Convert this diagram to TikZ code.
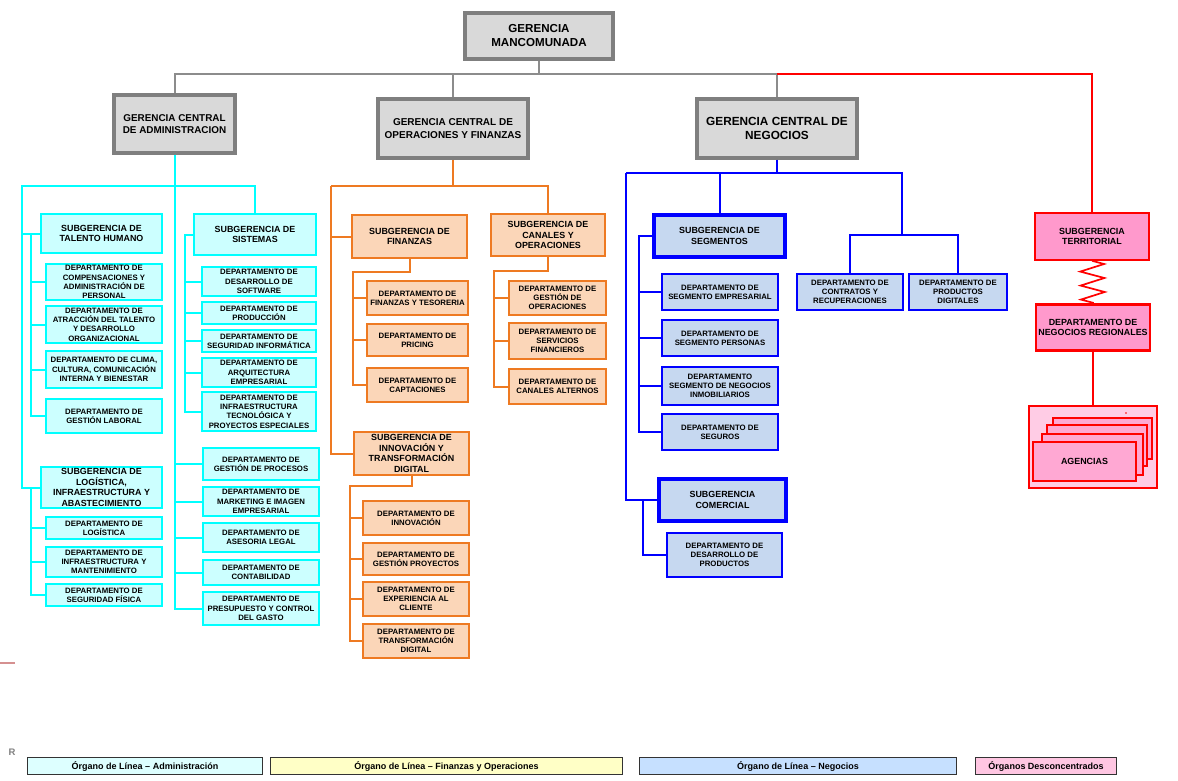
\documentclass[tikz,border=0pt]{standalone}
\usepackage{fontspec}
\setmainfont{Liberation Sans}
\usepackage{tikz}
\usetikzlibrary{calc,positioning,decorations.pathmorphing}
\usepackage{xcolor}
\definecolor{gcgray}{HTML}{7F7F7F}
\definecolor{gcfill}{HTML}{D9D9D9}
\definecolor{cyanln}{HTML}{00FFFF}
\definecolor{cyanfill}{HTML}{CCFFFF}
\definecolor{orangeln}{HTML}{EE7A22}
\definecolor{orangefill}{HTML}{FBD6B8}
\definecolor{blueln}{HTML}{0000FF}
\definecolor{bluefill}{HTML}{C6D8F0}
\definecolor{redln}{HTML}{FF0000}
\definecolor{pinkfill}{HTML}{FF99CC}
\definecolor{palepink}{HTML}{FFCCE5}
\definecolor{agpink}{HTML}{FFA8D3}
\definecolor{lgadm}{HTML}{DDFFFF}
\definecolor{lgfin}{HTML}{FFFFC6}
\definecolor{lgneg}{HTML}{C6E0FF}
\definecolor{lgdes}{HTML}{FFC6E2}

\begin{document}
\begin{tikzpicture}[x=1pt,y=-1pt,
    box/.style={draw,align=center,inner sep=0pt,text=black,font=\bfseries\fontsize{7.8}{9.3}\selectfont},
    gcbox/.style={box,draw=gcgray,line width=3.5pt,fill=gcfill},
    sga/.style={box,draw=cyanln,line width=2pt,fill=cyanfill,font=\bfseries\fontsize{8.9}{10.5}\selectfont},
    dpa/.style={box,draw=cyanln,line width=2pt,fill=cyanfill},
    sgo/.style={box,draw=orangeln,line width=2.2pt,fill=orangefill,font=\bfseries\fontsize{8.9}{10.5}\selectfont},
    dpo/.style={box,draw=orangeln,line width=2.2pt,fill=orangefill},
    sgn/.style={box,draw=blueln,line width=4pt,fill=bluefill,font=\bfseries\fontsize{8.9}{10.5}\selectfont},
    dpn/.style={box,draw=blueln,line width=2pt,fill=bluefill},
    sgr/.style={box,draw=redln,line width=1.6pt,fill=pinkfill,font=\bfseries\fontsize{8.9}{10.5}\selectfont},
    agr/.style={draw=redln,line width=1.5pt,fill=agpink,inner sep=0pt,text=black,font=\bfseries\fontsize{8.9}{10.5}\selectfont},
    lgbox/.style={draw=black!80,line width=1.2pt,inner sep=0pt,minimum height=17pt,text=black,font=\bfseries\fontsize{9}{11}\selectfont},
    gln/.style={draw=gcgray!90,line width=2pt},
    aln/.style={draw=cyanln,line width=2pt},
    oln/.style={draw=orangeln,line width=2pt},
    nln/.style={draw=blueln,line width=2pt},
    rln/.style={draw=redln,line width=1.7pt}]
    \useasboundingbox (0,0) rectangle (1178,781);

    \node[gcbox,minimum width=148pt,minimum height=46pt,font=\bfseries\fontsize{11.6}{14}\selectfont] (gm) at (539,36) {GERENCIA\\MANCOMUNADA};
    \node[gcbox,minimum width=121pt,minimum height=58pt,font=\bfseries\fontsize{9.9}{12.7}\selectfont] (gca) at (174.5,124) {GERENCIA CENTRAL\\DE ADMINISTRACION};
    \node[gcbox,minimum width=150pt,minimum height=59pt,font=\bfseries\fontsize{10}{12.7}\selectfont] (gcof) at (453,128.5) {GERENCIA CENTRAL DE\\OPERACIONES Y FINANZAS};
    \node[gcbox,minimum width=160pt,minimum height=59pt,font=\bfseries\fontsize{11.8}{13.7}\selectfont] (gcn) at (777,128.5) {GERENCIA CENTRAL DE\\NEGOCIOS};

    \node[sga,minimum width=121pt,minimum height=39pt] (tal) at (101.5,233.5) {SUBGERENCIA DE\\TALENTO HUMANO};
    \node[dpa,minimum width=116pt,minimum height=36pt] (comp) at (104,282) {DEPARTAMENTO DE\\COMPENSACIONES Y\\ADMINISTRACIÓN DE\\PERSONAL};
    \node[dpa,minimum width=116pt,minimum height=37pt] (atr) at (104,324.5) {DEPARTAMENTO DE\\ATRACCIÓN DEL TALENTO\\Y DESARROLLO\\ORGANIZACIONAL};
    \node[dpa,minimum width=116pt,minimum height=37pt] (clima) at (104,369.5) {DEPARTAMENTO DE CLIMA,\\CULTURA, COMUNICACIÓN\\INTERNA Y BIENESTAR};
    \node[dpa,minimum width=116pt,minimum height=34pt] (glab) at (104,416) {DEPARTAMENTO DE\\GESTIÓN LABORAL};
    \node[sga,minimum width=121pt,minimum height=41pt] (logi) at (101.5,487.5) {SUBGERENCIA DE\\LOGÍSTICA,\\INFRAESTRUCTURA Y\\ABASTECIMIENTO};
    \node[dpa,minimum width=116pt,minimum height=22pt] (log) at (104,528) {DEPARTAMENTO DE\\LOGÍSTICA};
    \node[dpa,minimum width=116pt,minimum height=30pt] (infm) at (104,562) {DEPARTAMENTO DE\\INFRAESTRUCTURA Y\\MANTENIMIENTO};
    \node[dpa,minimum width=116pt,minimum height=22pt] (segf) at (104,595) {DEPARTAMENTO DE\\SEGURIDAD FÍSICA};

    \node[sga,minimum width=122pt,minimum height=41pt] (sis) at (255,234.5) {SUBGERENCIA DE\\SISTEMAS};
    \node[dpa,minimum width=114pt,minimum height=29pt] (dsw) at (259,281.5) {DEPARTAMENTO DE\\DESARROLLO DE\\SOFTWARE};
    \node[dpa,minimum width=114pt,minimum height=22pt] (prod) at (259,313) {DEPARTAMENTO DE\\PRODUCCIÓN};
    \node[dpa,minimum width=114pt,minimum height=22pt] (seginf) at (259,341) {DEPARTAMENTO DE\\SEGURIDAD INFORMÁTICA};
    \node[dpa,minimum width=114pt,minimum height=29pt] (arq) at (259,372.5) {DEPARTAMENTO DE\\ARQUITECTURA\\EMPRESARIAL};
    \node[dpa,minimum width=114pt,minimum height=39pt] (infte) at (259,411.5) {DEPARTAMENTO DE\\INFRAESTRUCTURA\\TECNOLÓGICA Y\\PROYECTOS ESPECIALES};
    \node[dpa,minimum width=116pt,minimum height=32pt] (gproc) at (261,464) {DEPARTAMENTO DE\\GESTIÓN DE PROCESOS};
    \node[dpa,minimum width=116pt,minimum height=29pt] (mkt) at (261,501.5) {DEPARTAMENTO DE\\MARKETING E IMAGEN\\EMPRESARIAL};
    \node[dpa,minimum width=116pt,minimum height=29pt] (ases) at (261,537.5) {DEPARTAMENTO DE\\ASESORIA LEGAL};
    \node[dpa,minimum width=116pt,minimum height=25pt] (cont) at (261,572.5) {DEPARTAMENTO DE\\CONTABILIDAD};
    \node[dpa,minimum width=116pt,minimum height=33pt] (pres) at (261,608.5) {DEPARTAMENTO DE\\PRESUPUESTO Y CONTROL\\DEL GASTO};

    \node[sgo,minimum width=115pt,minimum height=43pt] (fin) at (409.5,236.5) {SUBGERENCIA DE\\FINANZAS};
    \node[dpo,minimum width=101pt,minimum height=34pt] (fyt) at (417.5,298) {DEPARTAMENTO DE\\FINANZAS Y TESORERIA};
    \node[dpo,minimum width=101pt,minimum height=32pt] (pric) at (417.5,340) {DEPARTAMENTO DE\\PRICING};
    \node[dpo,minimum width=101pt,minimum height=34pt] (capt) at (417.5,385) {DEPARTAMENTO DE\\CAPTACIONES};
    \node[sgo,minimum width=114pt,minimum height=42pt] (can) at (548,235) {SUBGERENCIA DE\\CANALES Y\\OPERACIONES};
    \node[dpo,minimum width=97pt,minimum height=34pt] (gop) at (557.5,298) {DEPARTAMENTO DE\\GESTIÓN DE\\OPERACIONES};
    \node[dpo,minimum width=97pt,minimum height=36pt] (sfin) at (557.5,341) {DEPARTAMENTO DE\\SERVICIOS\\FINANCIEROS};
    \node[dpo,minimum width=97pt,minimum height=35pt] (calt) at (557.5,386.5) {DEPARTAMENTO DE\\CANALES ALTERNOS};
    \node[sgo,minimum width=115pt,minimum height=43pt] (inn) at (411.5,453.5) {SUBGERENCIA DE\\INNOVACIÓN Y\\TRANSFORMACIÓN\\DIGITAL};
    \node[dpo,minimum width=106pt,minimum height=34pt] (dinn) at (416,518) {DEPARTAMENTO DE\\INNOVACIÓN};
    \node[dpo,minimum width=106pt,minimum height=32pt] (gpy) at (416,559) {DEPARTAMENTO DE\\GESTIÓN PROYECTOS};
    \node[dpo,minimum width=106pt,minimum height=34pt] (exp) at (416,599) {DEPARTAMENTO DE\\EXPERIENCIA AL\\CLIENTE};
    \node[dpo,minimum width=106pt,minimum height=34pt] (tdig) at (416,641) {DEPARTAMENTO DE\\TRANSFORMACIÓN\\DIGITAL};

    \node[sgn,minimum width=131pt,minimum height=42pt] (seg) at (719.5,236) {SUBGERENCIA DE\\SEGMENTOS};
    \node[dpn,minimum width=116pt,minimum height=36pt] (sem) at (720,292) {DEPARTAMENTO DE\\SEGMENTO EMPRESARIAL};
    \node[dpn,minimum width=116pt,minimum height=36pt] (spe) at (720,338) {DEPARTAMENTO DE\\SEGMENTO PERSONAS};
    \node[dpn,minimum width=116pt,minimum height=38pt] (sni) at (720,386) {DEPARTAMENTO\\SEGMENTO DE NEGOCIOS\\INMOBILIARIOS};
    \node[dpn,minimum width=116pt,minimum height=36pt] (sgs) at (720,432) {DEPARTAMENTO DE\\SEGUROS};
    \node[sgn,minimum width=127pt,minimum height=42pt] (com) at (722.5,500) {SUBGERENCIA\\COMERCIAL};
    \node[dpn,minimum width=115pt,minimum height=44pt] (dprod) at (724.5,555) {DEPARTAMENTO DE\\DESARROLLO DE\\PRODUCTOS};
    \node[dpn,minimum width=106pt,minimum height=36pt] (ctr) at (850,292) {DEPARTAMENTO DE\\CONTRATOS Y\\RECUPERACIONES};
    \node[dpn,minimum width=98pt,minimum height=36pt] (pdig) at (958,292) {DEPARTAMENTO DE\\PRODUCTOS\\DIGITALES};

    \node[sgr,minimum width=114pt,minimum height=47pt] (ter) at (1092,236.5) {SUBGERENCIA\\TERRITORIAL};
    \node[sgr,line width=2.8pt,minimum width=114pt,minimum height=46pt] (dnr) at (1093,327.5) {DEPARTAMENTO DE\\NEGOCIOS REGIONALES};
    \node[draw=redln,line width=2pt,fill=palepink,minimum width=128pt,minimum height=82pt] (agn) at (1093,447) {};
    \draw[rln,line width=2pt] (dnr.south) -- (agn.north);
    \node[agr,minimum width=99pt,minimum height=41pt] (ag1) at (1102.5,438.5) {};
    \node[agr,minimum width=100pt,minimum height=41pt] (ag2) at (1097,445.5) {};
    \node[agr,minimum width=101pt,minimum height=41pt] (ag3) at (1092.5,454.5) {};
    \node[agr,minimum width=103pt,minimum height=39pt] (ag4) at (1084.5,461.5) {AGENCIAS};
    \fill[redln] (1126,413) circle (0.9);

    \coordinate (tA) at ($(gm.south)+(0,13)$);
    \draw[gln] (gm.south) -- (tA);
    \draw[gln] (gca.north) |- (tA) -| (gcn.north);
    \draw[gln] (gcof.north) -- (gcof.north |- tA);
    \draw[rln] (gcn.north |- tA) -| (ter.north);

    \coordinate (aL) at (22,186);
    \draw[aln] (gca.south) |- (aL) |- (logi.west);
    \draw[aln] (gca.south |- aL) -| (sis.north);
    \draw[aln] (aL |- tal.west) -- (tal.west);
    \draw[aln] (gca.south) |- (pres.west);
    \foreach \n in {gproc,mkt,ases,cont}
        \draw[aln] (gca.south |- \n.west) -- (\n.west);
    \coordinate (aT) at ($(tal.west)+(-9,0)$);
    \draw[aln] (aT) |- (glab.west);
    \foreach \n in {comp,atr,clima}
        \draw[aln] (aT |- \n.west) -- (\n.west);
    \coordinate (aG) at ($(logi.west)+(-9,0)$);
    \draw[aln] (aG) |- (segf.west);
    \foreach \n in {log,infm}
        \draw[aln] (aG |- \n.west) -- (\n.west);
    \coordinate (aS) at ($(sis.west)+(-8,0)$);
    \draw[aln] (sis.west) -- (aS) |- (infte.west);
    \foreach \n in {dsw,prod,seginf,arq}
        \draw[aln] (aS |- \n.west) -- (\n.west);

    \coordinate (oL) at (331,186);
    \draw[oln] (gcof.south) -- (gcof.south |- oL);
    \draw[oln] (oL) -| (can.north);
    \draw[oln] (oL) |- (inn.west);
    \draw[oln] (oL |- fin.west) -- (fin.west);
    \coordinate (oF) at (353,272);
    \draw[oln] (fin.south) |- (oF) |- (capt.west);
    \foreach \n in {fyt,pric}
        \draw[oln] (oF |- \n.west) -- (\n.west);
    \coordinate (oC) at (494,271);
    \draw[oln] (can.south) |- (oC) |- (calt.west);
    \foreach \n in {gop,sfin}
        \draw[oln] (oC |- \n.west) -- (\n.west);
    \coordinate (oI) at (350,486);
    \draw[oln] (inn.south) |- (oI) |- (tdig.west);
    \foreach \n in {dinn,gpy,exp}
        \draw[oln] (oI |- \n.west) -- (\n.west);

    \coordinate (nL) at (626,173);
    \coordinate (nR) at (902,173);
    \coordinate (nM) at (902,235);
    \draw[nln] (gcn.south) -- (gcn.south |- nL);
    \draw[nln] (nL) -- (nR) -- (nM);
    \draw[nln] (seg.north |- nL) -- (seg.north);
    \draw[nln] (nL) |- (com.west);
    \draw[nln] (ctr.north) |- (nM) -| (pdig.north);
    \coordinate (nS) at ($(seg.west)+(-13,0)$);
    \draw[nln] (seg.west) -- (nS) |- (sgs.west);
    \foreach \n in {sem,spe,sni}
        \draw[nln] (nS |- \n.west) -- (\n.west);
    \coordinate (nC) at (643,500);
    \draw[nln] (nC) |- (dprod.west);

    \draw[rln,decorate,decoration={zigzag,segment length=14pt,amplitude=12pt}] (ter.south) -- (dnr.north);

    \draw[line width=1.2pt,color=red!45!gray!60] (0,663) -- (15,663);
    \node[text=gray,font=\bfseries\fontsize{9.5}{11}\selectfont] (rr) at (12,752) {R};
    \node[lgbox,fill=lgadm,minimum width=235pt] (lg1) at (145,766) {Órgano de Línea – Administración};
    \node[lgbox,fill=lgfin,minimum width=352pt] (lg2) at (446.5,766) {Órgano de Línea – Finanzas y Operaciones};
    \node[lgbox,fill=lgneg,minimum width=317pt] (lg3) at (798,766) {Órgano de Línea – Negocios};
    \node[lgbox,fill=lgdes,minimum width=141pt] (lg4) at (1046,766) {Órganos Desconcentrados};
\end{tikzpicture}
\end{document}
